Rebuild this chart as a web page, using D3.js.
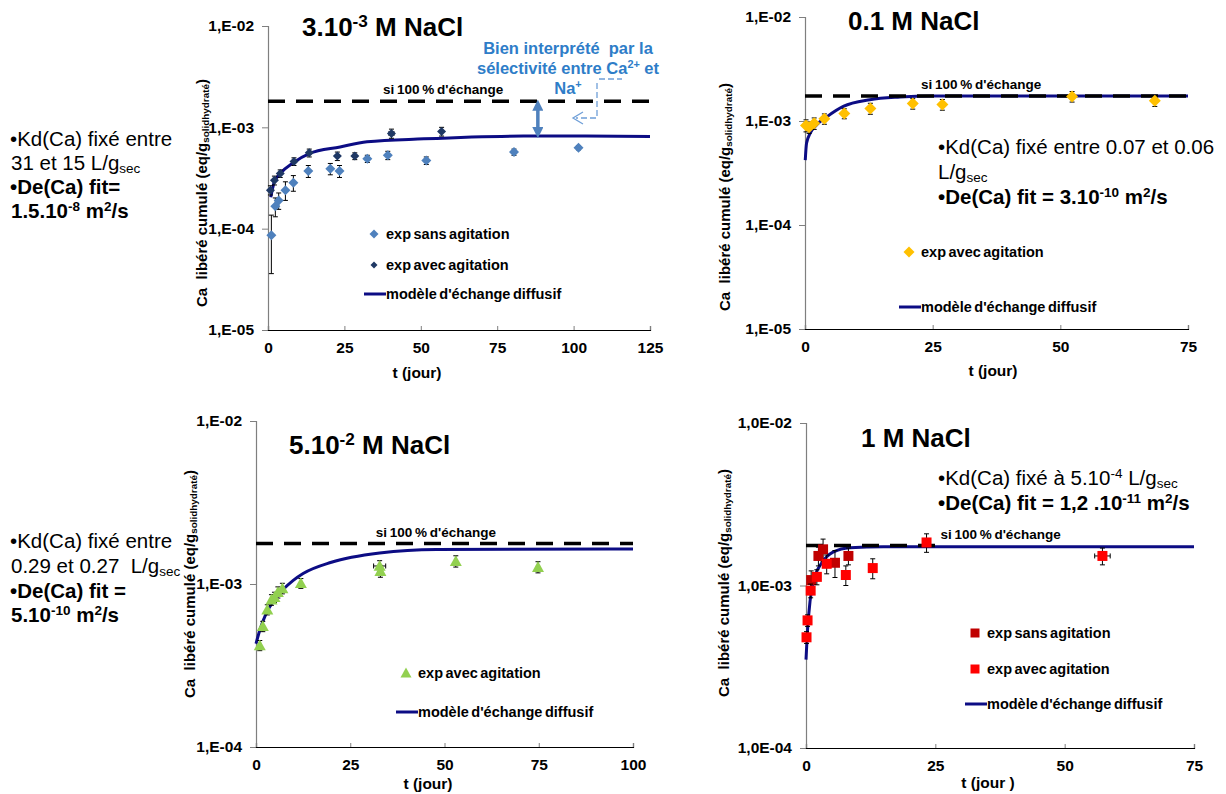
<!DOCTYPE html>
<html><head><meta charset="utf-8">
<script src="https://cdn.jsdelivr.net/npm/d3@7"></script>
<style>
body{margin:0;background:#fff;}
svg{font-family:Arial,"Liberation Sans",sans-serif;}
text{white-space:pre;}
</style></head><body>
<svg id="c" width="1226" height="794"></svg>
<script>
// ---------- DATA ----------
// Panel 1 : 3.10-3 M NaCl
const p1SansT   = [1.1, 2.4, 3.5, 5.7, 8.3, 13.2, 20.4, 23.4, 32.5, 39.2, 51.8, 80.5, 101.6];
const p1SansCa  = [8.6e-5, 1.66e-4, 1.9e-4, 2.4e-4, 2.84e-4, 3.7e-4, 3.9e-4, 3.7e-4, 4.9e-4, 5.3e-4, 4.7e-4, 5.7e-4, 6.3e-4];
const p1SansErr = [5e-5, 3.5e-5, 3.5e-5, 5e-5, 5e-5, 5e-5, 5e-5, 5e-5, 4e-5, 5e-5, 4e-5, 4e-5, 3e-5];
const p1AvecT   = [0.8, 2.1, 4.0, 8.5, 13.5, 22.7, 28.4, 40.4, 56.8];
const p1AvecCa  = [2.4e-4, 3.0e-4, 3.5e-4, 4.6e-4, 5.6e-4, 5.2e-4, 5.2e-4, 8.7e-4, 9.1e-4];
const p1AvecErr = [2.5e-5, 3e-5, 3e-5, 4e-5, 5e-5, 5e-5, 4e-5, 9e-5, 9e-5];
const p1AvecXErr= [0, 0, 0, 0, 0, 0, 0, 0.8, 0];
const p1ModelT  = [0.9, 2, 4, 8.4, 13.5, 23.6, 32.4, 51, 83.6, 100, 125];
const p1ModelCa = [2.04e-4, 2.85e-4, 3.5e-4, 4.5e-4, 5.5e-4, 6.4e-4, 7.2e-4, 7.7e-4, 8.2e-4, 8.2e-4, 8.1e-4];
const p1Full = 1.81e-3;

// Panel 2 : 0.1 M NaCl
const p2AvecT   = [0.2, 0.8, 1.8, 3.8, 7.7, 12.8, 21.1, 26.9, 52.3, 68.5];
const p2AvecCa  = [9.06e-4, 8.7e-4, 9.5e-4, 1.05e-3, 1.18e-3, 1.32e-3, 1.47e-3, 1.44e-3, 1.72e-3, 1.57e-3];
const p2AvecErr = [1.2e-4, 1.1e-4, 1.2e-4, 1.2e-4, 1.3e-4, 1.6e-4, 1.7e-4, 1.7e-4, 2e-4, 1.9e-4];
const p2ModelT  = [0.05, 0.3, 1, 2.3, 4.2, 7.5, 12.7, 18.6, 25, 75];
const p2ModelCa = [4.2e-4, 6.1e-4, 7.6e-4, 9.2e-4, 1.09e-3, 1.38e-3, 1.6e-3, 1.7e-3, 1.74e-3, 1.74e-3];
const p2Full = 1.74e-3;

// Panel 3 : 5.10-2 M NaCl
const p3AvecT   = [1.0, 1.8, 3.0, 4.1, 4.9, 5.8, 7.0, 11.9, 32.8, 33.0, 53, 74.8];
const p3AvecCa  = [4.2e-4, 5.5e-4, 6.96e-4, 8.0e-4, 8.3e-4, 8.9e-4, 9.4e-4, 1.01e-3, 1.29e-3, 1.2e-3, 1.38e-3, 1.27e-3];
const p3AvecErr = [3e-5, 4e-5, 5e-5, 6e-5, 6e-5, 7e-5, 7e-5, 7e-5, 1e-4, 1e-4, 1.1e-4, 1e-4];
const p3AvecXErr= [0, 0, 0, 0, 0, 0, 0, 0, 1.6, 0, 0, 0];
const p3ModelT  = [0, 1, 2.7, 5.4, 9.8, 12.5, 20, 32.8, 47.8, 100];
const p3ModelCa = [4.3e-4, 5.2e-4, 6.6e-4, 8.3e-4, 1.05e-3, 1.16e-3, 1.36e-3, 1.55e-3, 1.63e-3, 1.64e-3];
const p3Full = 1.77e-3;

// Panel 4 : 1 M NaCl
const p4SansT   = [1.0, 2.4, 3.3, 5.6, 8.2];
const p4SansCa  = [1.08e-3, 1.52e-3, 1.67e-3, 1.38e-3, 1.52e-3];
const p4SansErr = [1.5e-4, 2e-4, 2.6e-4, 2.6e-4, 1.8e-4];
const p4AvecT   = [0.1, 0.3, 0.9, 2.1, 4.0, 7.7, 12.9, 23.3, 57.3];
const p4AvecCa  = [4.8e-4, 6.1e-4, 9.3e-4, 1.13e-3, 1.36e-3, 1.16e-3, 1.28e-3, 1.84e-3, 1.52e-3];
const p4AvecErr = [4e-5, 5e-5, 9e-5, 1.2e-4, 1.8e-4, 1.6e-4, 1.8e-4, 2.4e-4, 1.8e-4];
const p4AvecXErr= [0, 0, 0, 0, 0, 0, 0, 0, 1.5];
const p4ModelT  = [0, 0.26, 0.8, 1.7, 3, 5.3, 8.5, 15, 75];
const p4ModelCa = [3.5e-4, 5.1e-4, 8.1e-4, 1.13e-3, 1.37e-3, 1.61e-3, 1.71e-3, 1.73e-3, 1.73e-3];
const p4Full = 1.76e-3;

// tick values
const xTicks125 = [0, 25, 50, 75, 100, 125];
const xTicks100 = [0, 25, 50, 75, 100];
const xTicks75  = [0, 25, 50, 75];
const yTicks3dec = [1e-5, 1e-4, 1e-3, 1e-2];
const yTicks2dec = [1e-4, 1e-3, 1e-2];

// ---------- DRAW ----------
const svg = d3.select("#c");
const NAVY = "#0c0c84";
const FONT = "Arial,'Liberation Sans',sans-serif";

function rich(g, x, y, parts, opt) {
  const fs = opt.size;
  const t = g.append("text").attr("x", x).attr("y", y).attr("font-size", fs)
    .attr("font-weight", opt.bold ? "bold" : "normal").attr("fill", opt.color || "#000")
    .attr("text-anchor", opt.anchor || "start");
  if (opt.rotate) t.attr("transform", `rotate(-90,${x},${y})`);
  let shift = 0;
  parts.forEach(p => {
    const txt = Array.isArray(p) ? p[0] : p;
    const kind = Array.isArray(p) ? p[1] : null;
    const target = kind === "sup" ? -fs * 0.34 : kind === "sub" ? fs * 0.14 : 0;
    const s = t.append("tspan").text(txt).attr("dy", target - shift);
    if (kind) s.attr("font-size", fs * 0.66);
    shift = target;
  });
  return t;
}

function marker(g, shape, cx, cy, r, color) {
  let d;
  if (shape === "diamond") d = `M${cx},${cy-r}L${cx+r},${cy}L${cx},${cy+r}L${cx-r},${cy}Z`;
  else if (shape === "triangle") d = `M${cx},${cy-r}L${cx+r},${cy+r*0.8}L${cx-r},${cy+r*0.8}Z`;
  else d = `M${cx-r},${cy-r}h${2*r}v${2*r}h${-2*r}Z`;
  g.append("path").attr("d", d).attr("fill", color);
}

function fmtE(v) { const e = Math.round(-Math.log10(v)); return "1,E-" + String(e).padStart(2, "0"); }
function fmtE0(v) { const e = Math.round(-Math.log10(v)); return "1,0E-" + String(e).padStart(2, "0"); }

function panel(c) {
  const x = d3.scaleLinear().domain([0, c.xMax]).range([c.left, c.right]);
  const y = d3.scaleLog().domain([c.yMin, 1e-2]).range([c.bottom, c.top]);
  const g = svg.append("g");

  const ya = g.append("g").attr("transform", `translate(${c.left},0)`)
    .call(d3.axisLeft(y).tickValues(c.yTicks).tickFormat(c.fmt).tickSizeOuter(0).tickSize(6).tickPadding(8));
  ya.select(".domain").attr("stroke", "#7f7f7f").attr("stroke-width", 1.2);
  ya.selectAll(".tick line").attr("stroke", "#7f7f7f");
  ya.selectAll("text").attr("font-size", 15.5).attr("font-weight", "bold").attr("font-family", FONT).attr("fill", "#000");

  const xa = g.append("g").attr("transform", `translate(0,${c.bottom})`)
    .call(d3.axisBottom(x).tickValues(c.xTicks).tickSizeOuter(0).tickSize(-4).tickPadding(12));
  xa.select(".domain").attr("stroke", "#000").attr("stroke-width", 1.2);
  xa.selectAll(".tick line").attr("stroke", "#7f7f7f");
  xa.selectAll("text").attr("font-size", 15.5).attr("font-weight", "bold").attr("font-family", FONT).attr("fill", "#000");

  // model line
  const line = d3.line().x((d, i) => x(c.modelT[i])).y((d, i) => y(c.modelCa[i])).curve(d3.curveMonotoneX);
  g.append("path").attr("d", line(c.modelCa)).attr("fill", "none").attr("stroke", NAVY).attr("stroke-width", 3);

  // dashed 100% line
  g.append("line").attr("x1", x(0)).attr("x2", x(c.fullEnd)).attr("y1", y(c.full)).attr("y2", y(c.full))
    .attr("stroke", "#000").attr("stroke-width", 3.5).attr("stroke-dasharray", "17,11");
  g.append("text").attr("x", x(c.fullLabelX)).attr("y", y(c.full) - 7).attr("text-anchor", "middle")
    .attr("font-size", 13.5).attr("font-weight", "bold").attr("word-spacing", -1).text("si 100 % d'échange");

  // series
  c.series.forEach(s => {
    const eg = g.append("g").attr("stroke", "#000").attr("stroke-width", 1);
    s.t.forEach((tv, i) => {
      const cx = x(tv), cy = y(s.ca[i]);
      const lo = y(Math.max(s.ca[i] - s.err[i], c.yMin)), hi = y(s.ca[i] + s.err[i]);
      eg.append("line").attr("x1", cx).attr("x2", cx).attr("y1", lo).attr("y2", hi);
      eg.append("line").attr("x1", cx - 2.5).attr("x2", cx + 2.5).attr("y1", lo).attr("y2", lo);
      eg.append("line").attr("x1", cx - 2.5).attr("x2", cx + 2.5).attr("y1", hi).attr("y2", hi);
      if (s.xerr && s.xerr[i] > 0) {
        const l = x(tv - s.xerr[i]), r = x(tv + s.xerr[i]);
        eg.append("line").attr("x1", l).attr("x2", r).attr("y1", cy).attr("y2", cy);
        eg.append("line").attr("x1", l).attr("x2", l).attr("y1", cy - 2.5).attr("y2", cy + 2.5);
        eg.append("line").attr("x1", r).attr("x2", r).attr("y1", cy - 2.5).attr("y2", cy + 2.5);
      }
    });
    const mg = g.append("g");
    s.t.forEach((tv, i) => marker(mg, s.shape, x(tv), y(s.ca[i]), s.r, s.color));
  });

  // legend
  c.legend.forEach(L => {
    if (L.shape === "line") g.append("line").attr("x1", L.x - 22).attr("x2", L.x).attr("y1", L.y).attr("y2", L.y)
      .attr("stroke", NAVY).attr("stroke-width", 3);
    else marker(g, L.shape, L.x - 12, L.y, L.r, L.color);
    g.append("text").attr("x", L.x).attr("y", L.y + 5).attr("font-size", 14.5).attr("font-weight", "bold")
      .attr("word-spacing", -1.5).text(L.text);
  });

  // axis titles
  g.append("text").attr("x", c.xTitle[0]).attr("y", c.xTitle[1]).attr("text-anchor", "middle")
    .attr("font-size", 15.5).attr("font-weight", "bold").text(c.xTitleText);
  rich(g, c.yTitle[0], c.yTitle[1], ["Ca  libéré cumulé (eq/g", ["solidhydraté", "sub"], ")"],
    { size: 15, bold: true, anchor: "middle", rotate: true });

  // title
  rich(g, c.title[0], c.title[1], c.titleParts, { size: 26, bold: true });
  return { x, y, g };
}

const P1 = panel({
  left: 268, right: 650, top: 26, bottom: 330, xMax: 125, yMin: 1e-5,
  xTicks: xTicks125, yTicks: yTicks3dec, fmt: fmtE,
  modelT: p1ModelT, modelCa: p1ModelCa, full: p1Full, fullEnd: 125, fullLabelX: 57.3,
  series: [
    { t: p1SansT, ca: p1SansCa, err: p1SansErr, shape: "diamond", r: 5, color: "#4f81bd" },
    { t: p1AvecT, ca: p1AvecCa, err: p1AvecErr, xerr: p1AvecXErr, shape: "diamond", r: 4.5, color: "#1f3864" }
  ],
  legend: [
    { shape: "diamond", r: 4.5, color: "#4f81bd", x: 386, y: 234, text: "exp sans agitation" },
    { shape: "diamond", r: 3.5, color: "#1f3864", x: 386, y: 265, text: "exp avec agitation" },
    { shape: "line", x: 386, y: 294, text: "modèle d'échange diffusif" }
  ],
  xTitle: [417, 378], xTitleText: "t (jour)", yTitle: [207, 193],
  title: [302, 36], titleParts: ["3.10", ["-3", "sup"], " M NaCl"]
});

const P2 = panel({
  left: 805, right: 1188, top: 17, bottom: 329, xMax: 75, yMin: 1e-5,
  xTicks: xTicks75, yTicks: yTicks3dec, fmt: fmtE,
  modelT: p2ModelT, modelCa: p2ModelCa, full: p2Full, fullEnd: 75, fullLabelX: 34.5,
  series: [
    { t: p2AvecT, ca: p2AvecCa, err: p2AvecErr, shape: "diamond", r: 6, color: "#ffc000" }
  ],
  legend: [
    { shape: "diamond", r: 5.5, color: "#ffc000", x: 921, y: 252, text: "exp avec agitation" },
    { shape: "line", x: 921, y: 307, text: "modèle d'échange diffusif" }
  ],
  xTitle: [993, 376], xTitleText: "t (jour)", yTitle: [730, 197],
  title: [848, 30], titleParts: ["0.1 M NaCl"]
});

const P3 = panel({
  left: 256, right: 633, top: 421, bottom: 747, xMax: 100, yMin: 1e-4,
  xTicks: xTicks100, yTicks: yTicks2dec, fmt: fmtE,
  modelT: p3ModelT, modelCa: p3ModelCa, full: p3Full, fullEnd: 100, fullLabelX: 47.7,
  series: [
    { t: p3AvecT, ca: p3AvecCa, err: p3AvecErr, xerr: p3AvecXErr, shape: "triangle", r: 6, color: "#92d050" }
  ],
  legend: [
    { shape: "triangle", r: 5.5, color: "#92d050", x: 418, y: 673, text: "exp avec agitation" },
    { shape: "line", x: 418, y: 712, text: "modèle d'échange diffusif" }
  ],
  xTitle: [428, 789], xTitleText: "t (jour)", yTitle: [195, 584],
  title: [289, 454], titleParts: ["5.10", ["-2", "sup"], " M NaCl"]
});

const P4 = panel({
  left: 806, right: 1194, top: 423, bottom: 748, xMax: 75, yMin: 1e-4,
  xTicks: xTicks75, yTicks: yTicks2dec, fmt: fmtE0,
  modelT: p4ModelT, modelCa: p4ModelCa, full: p4Full, fullEnd: 26.5, fullLabelX: 37.6,
  series: [
    { t: p4SansT, ca: p4SansCa, err: p4SansErr, shape: "square", r: 5, color: "#c00000" },
    { t: p4AvecT, ca: p4AvecCa, err: p4AvecErr, xerr: p4AvecXErr, shape: "square", r: 5, color: "#ff0000" }
  ],
  legend: [
    { shape: "square", r: 4.5, color: "#c00000", x: 987, y: 633, text: "exp sans agitation" },
    { shape: "square", r: 4.5, color: "#ff0000", x: 987, y: 669, text: "exp avec agitation" },
    { shape: "line", x: 987, y: 704, text: "modèle d'échange diffusif" }
  ],
  xTitle: [988, 788], xTitleText: "t (jour )", yTitle: [729, 583],
  title: [861, 447], titleParts: ["1 M NaCl"]
});

// ---------- Annotation panel 1 ----------
(function () {
  const g = svg.append("g");
  const ax = P1.x(88.3);
  const defs = svg.append("defs");
  defs.append("marker").attr("id", "ah").attr("viewBox", "0 0 10 10").attr("refX", 5).attr("refY", 5)
    .attr("markerWidth", 3.2).attr("markerHeight", 3.2).attr("orient", "auto-start-reverse")
    .append("path").attr("d", "M0,0L10,5L0,10Z").attr("fill", "#4f81bd");
  g.append("line").attr("x1", ax).attr("x2", ax).attr("y1", P1.y(p1Full) + 4).attr("y2", P1.y(8.1e-4) - 4)
    .attr("stroke", "#4f81bd").attr("stroke-width", 3.5)
    .attr("marker-start", "url(#ah)").attr("marker-end", "url(#ah)");
  const blue = "#2e7dc8";
  rich(g, 568, 54, ["Bien interprété  par la"], { size: 16.5, bold: true, color: blue, anchor: "middle" });
  rich(g, 568, 74, ["sélectivité entre Ca", ["2+", "sup"], " et"], { size: 16.5, bold: true, color: blue, anchor: "middle" });
  rich(g, 568, 94, ["Na", ["+", "sup"]], { size: 16.5, bold: true, color: blue, anchor: "middle" });
  const cb = "#6f9fd8";
  g.append("path").attr("d", "M599,79H622M597,83V118H576").attr("fill", "none").attr("stroke", cb)
    .attr("stroke-width", 1.3).attr("stroke-dasharray", "6,3");
  g.append("path").attr("d", "M583,112L573,118L583,124").attr("fill", "none").attr("stroke", cb).attr("stroke-width", 1.3);
})();

// ---------- Side texts ----------
(function () {
  const g = svg.append("g");
  const fs = 20.5;
  rich(g, 10, 146, ["•Kd(Ca) fixé entre"], { size: fs });
  rich(g, 11, 170, ["31 et 15 L/g", ["sec", "sub"]], { size: fs });
  rich(g, 10, 194, ["•De(Ca) fit="], { size: fs, bold: true });
  rich(g, 11, 218, ["1.5.10", ["-8", "sup"], " m", ["2", "sup"], "/s"], { size: fs, bold: true });

  rich(g, 10, 548, ["•Kd(Ca) fixé entre"], { size: fs });
  rich(g, 11, 573, ["0.29 et 0.27  L/g", ["sec", "sub"]], { size: fs });
  rich(g, 10, 598, ["•De(Ca) fit ="], { size: fs, bold: true });
  rich(g, 11, 622, ["5.10", ["-10", "sup"], " m", ["2", "sup"], "/s"], { size: fs, bold: true });

  rich(g, 938, 154, ["•Kd(Ca) fixé entre 0.07 et 0.06"], { size: fs });
  rich(g, 938, 179, ["L/g", ["sec", "sub"]], { size: fs });
  rich(g, 938, 204, ["•De(Ca) fit = 3.10", ["-10", "sup"], " m", ["2", "sup"], "/s"], { size: fs, bold: true });

  rich(g, 938, 485, ["•Kd(Ca) fixé à 5.10", ["-4", "sup"], " L/g", ["sec", "sub"]], { size: fs });
  rich(g, 938, 510, ["•De(Ca) fit = 1,2 .10", ["-11", "sup"], " m", ["2", "sup"], "/s"], { size: fs, bold: true });
})();
</script>
</body></html>
